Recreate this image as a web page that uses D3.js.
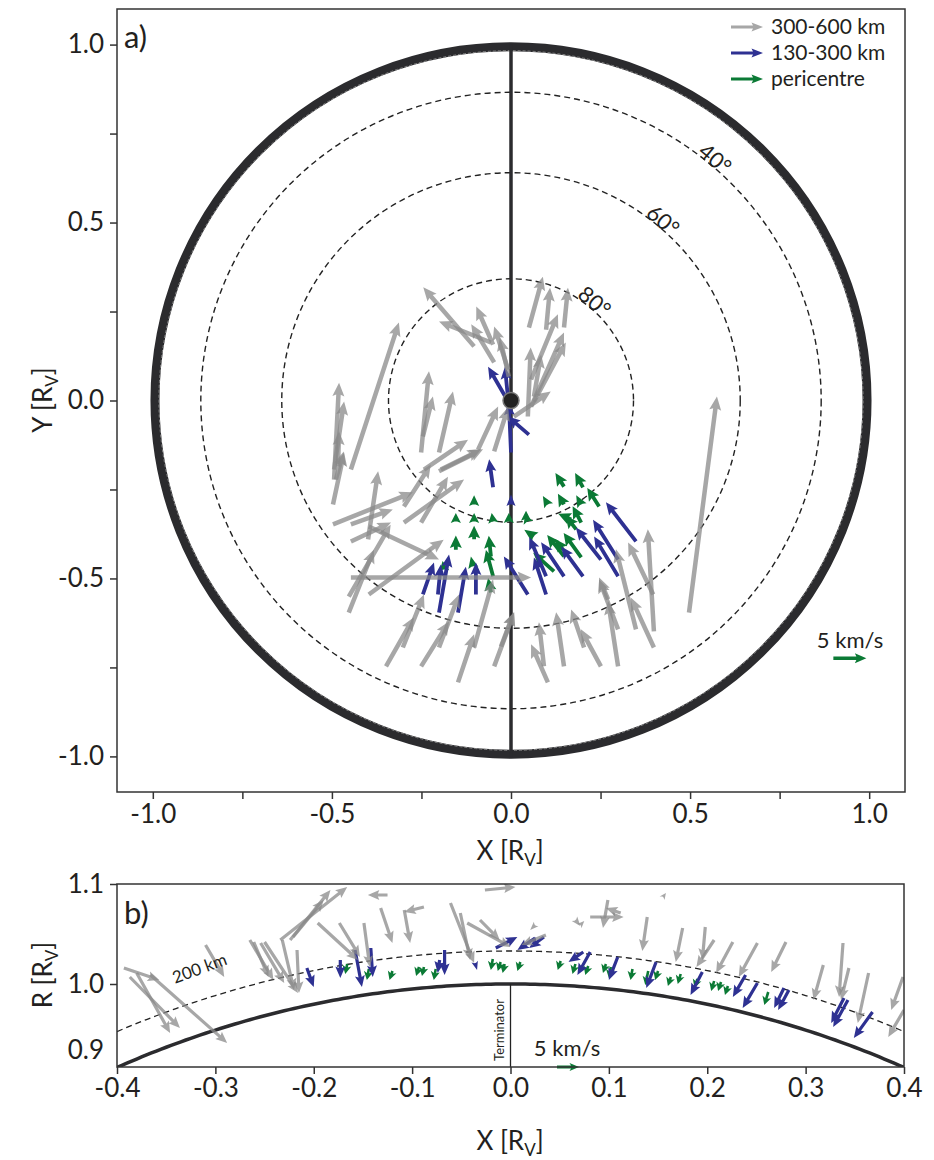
<!DOCTYPE html>
<html><head><meta charset="utf-8">
<script src="https://cdn.jsdelivr.net/npm/d3@7"></script>
<style>
body{margin:0;background:#fff}
text{font-family:Lato,'Open Sans',sans-serif;fill:#231f20}
</style>
</head><body>
<svg id="c" width="934" height="1160"></svg>
<script>
// ---------- DATA (panel a: [x, y, dx, dy] in R_V) ----------
const greyA = [
[-0.103,0.152,-0.142,0.166],[-0.056,0.163,-0.145,0.059],[-0.050,0.157,-0.047,0.107],
[-0.047,0.107,-0.064,0.107],[-0.008,0.087,-0.039,0.121],[-0.006,0.067,-0.025,0.110],
[0.050,0.205,0.039,0.143],[0.098,0.199,0.011,0.118],[0.148,0.205,0.011,0.112],
[0.056,0.059,0.075,0.183],[0.047,-0.045,0.008,0.194],[0.064,0.011,0.020,0.118],
[0.056,-0.017,0.092,0.208],[0.064,-0.003,0.089,0.166],[0.008,-0.045,0.103,0.070],
[-0.047,-0.143,0.039,0.124],[-0.092,-0.138,0.056,0.121],[-0.447,-0.194,0.134,0.413],
[-0.251,-0.146,0.022,0.228],[-0.246,-0.101,0.028,0.112],[-0.201,-0.146,0.039,0.171],
[-0.494,-0.222,0.014,0.272],[-0.494,-0.194,0.028,0.191],[-0.483,-0.185,0.003,0.098],
[-0.489,-0.222,0.022,0.079],[-0.243,-0.194,0.123,0.084],[-0.196,-0.194,0.112,0.056],
[-0.497,-0.292,0.031,0.146],[-0.399,-0.390,0.028,0.191],[-0.497,-0.348,0.223,0.090],
[-0.447,-0.348,0.117,0.042],[-0.299,-0.298,0.075,0.118],[-0.201,-0.199,0.123,0.062],
[-0.251,-0.343,0.075,0.129],[-0.299,-0.343,0.168,0.121],[-0.447,-0.396,0.112,0.053],
[-0.397,-0.354,0.196,-0.093],[-0.453,-0.551,0.117,0.202],[-0.453,-0.596,0.070,0.177],
[-0.397,-0.545,0.209,0.154],[-0.447,-0.497,0.503,0.000],[-0.349,-0.747,0.078,0.138],
[-0.302,-0.694,0.059,0.149],[-0.251,-0.747,0.078,0.126],[-0.201,-0.694,0.056,0.149],
[-0.148,-0.792,0.045,0.135],[-0.103,-0.694,0.053,0.191],[-0.047,-0.747,0.056,0.152],
[0.103,-0.792,-0.047,0.107],[0.092,-0.747,-0.014,0.124],[0.148,-0.747,-0.022,0.152],
[0.204,-0.694,-0.036,0.107],[0.251,-0.747,-0.056,0.104],[0.299,-0.747,-0.028,0.183],
[0.299,-0.643,-0.053,0.140],[0.349,-0.643,-0.056,0.225],[0.399,-0.694,-0.064,0.140],
[0.397,-0.545,-0.070,0.146],[0.399,-0.649,-0.017,0.287],[0.497,-0.596,0.078,0.607],
[-0.028,-0.691,0.036,0.096],[0.271,-0.559,-0.025,0.062]
];
const blueA = [
[-0.008,-0.003,-0.056,0.098],[-0.006,-0.017,-0.011,0.112],[0.000,-0.146,-0.006,0.140],
[0.050,-0.096,-0.059,0.051],[-0.050,-0.244,-0.011,0.079],[0.000,-0.292,0.000,0.028],
[-0.246,-0.545,0.031,0.090],[-0.201,-0.596,0.028,0.163],[-0.204,-0.545,0.008,0.084],
[-0.148,-0.596,0.022,0.129],[-0.098,-0.545,0.000,0.090],[0.047,-0.545,-0.067,0.107],
[0.098,-0.545,-0.034,0.104],[0.098,-0.494,-0.047,0.110],[0.148,-0.494,-0.064,0.096],
[0.201,-0.494,-0.061,0.084],[0.251,-0.447,-0.070,0.090],[0.299,-0.494,-0.067,0.112],
[0.299,-0.447,-0.070,0.112],[0.349,-0.396,-0.084,0.110]
];
const greenA = [
[-0.103,-0.292,0.000,0.026],[-0.154,-0.340,0.000,0.024],[-0.103,-0.340,0.000,0.024],
[-0.050,-0.340,-0.004,0.024],[-0.006,-0.340,0.000,0.024],[0.042,-0.334,0.000,0.024],
[-0.103,-0.390,0.000,0.038],[-0.154,-0.419,0.000,0.040],[-0.056,-0.438,-0.006,0.058],
[-0.050,-0.494,-0.020,0.074],[-0.106,-0.466,-0.006,0.028],[-0.056,-0.539,-0.008,0.040],
[-0.187,-0.475,-0.004,0.024],[0.148,-0.242,-0.024,0.038],[0.201,-0.244,-0.022,0.040],
[0.103,-0.292,-0.014,0.024],[0.148,-0.292,-0.017,0.030],[0.196,-0.292,-0.014,0.026],
[0.246,-0.298,-0.033,0.052],[0.047,-0.340,-0.008,0.020],[0.196,-0.343,-0.024,0.046],
[0.168,-0.334,-0.036,0.016],[0.182,-0.362,-0.030,0.038],[0.064,-0.382,-0.027,0.019],
[0.148,-0.438,-0.047,0.060],[0.196,-0.441,-0.049,0.069],[0.120,-0.480,-0.058,0.052],
[0.145,-0.419,-0.022,0.030]
];
// ---------- DATA (panel b: [x, R, dx, dR]) ----------
const greyB = [
[-0.393,1.016,0.036,-0.012],[-0.387,1.007,0.051,-0.051],[-0.380,1.011,0.034,-0.060],
[-0.366,1.009,0.078,-0.068],[-0.310,1.039,0.019,-0.032],[-0.265,1.044,0.024,-0.040],
[-0.261,1.042,0.015,-0.035],[-0.254,1.041,0.024,-0.040],[-0.250,1.042,0.034,-0.051],
[-0.232,1.044,0.012,-0.050],[-0.217,1.034,0.002,-0.043],[-0.234,1.044,0.068,0.053],
[-0.224,1.044,0.041,0.050],[-0.221,1.047,0.031,0.037],[-0.196,1.061,0.041,-0.037],
[-0.174,1.061,0.021,-0.034],[-0.149,1.061,0.006,-0.044],[-0.132,1.076,0.012,-0.035],
[-0.125,1.089,-0.020,0.000],[-0.108,1.074,0.006,-0.033],[-0.088,1.077,-0.020,-0.005],
[-0.061,1.081,0.024,-0.060],[-0.051,1.071,0.010,-0.047],[-0.044,1.061,0.044,-0.024],
[-0.026,1.094,0.031,0.003],[-0.031,1.064,0.020,-0.020],
[0.099,1.084,-0.005,-0.028],[0.081,1.067,0.034,0.000],[0.112,1.071,-0.015,0.005],
[0.139,1.067,-0.005,-0.034],[0.175,1.056,-0.007,-0.034],[0.198,1.057,-0.003,-0.033],
[0.207,1.044,-0.018,-0.027],[0.226,1.042,-0.017,-0.031],[0.251,1.041,-0.019,-0.034],
[0.280,1.042,-0.015,-0.030],[0.338,1.041,-0.004,-0.054],[0.318,1.019,-0.010,-0.035],
[0.344,1.016,-0.008,-0.032],[0.364,1.011,-0.011,-0.050],[0.399,1.007,-0.012,-0.033],
[0.400,0.974,-0.016,-0.027],[0.066,1.064,0.005,-0.006],[0.071,1.059,0.004,0.004],
[0.025,1.059,-0.005,-0.005],[0.036,1.049,-0.025,-0.010],[0.155,1.087,0.003,0.004]
];
const blueB = [
[-0.207,1.016,0.007,-0.019],[-0.173,1.024,0.000,-0.018],[-0.158,1.034,0.007,-0.037],
[-0.142,1.036,0.002,-0.029],[-0.067,1.034,0.000,-0.025],[-0.072,1.024,-0.002,-0.013],
[-0.036,1.021,0.002,-0.007],[-0.015,1.036,0.022,0.011],[0.025,1.046,-0.018,-0.012],
[0.034,1.047,-0.015,-0.011],[0.081,1.032,-0.013,-0.023],[0.074,1.032,-0.015,-0.010],
[0.109,1.027,-0.009,-0.023],[0.148,1.022,-0.010,-0.026],[0.195,1.012,-0.012,-0.023],
[0.239,1.009,-0.013,-0.022],[0.251,1.001,-0.015,-0.025],[0.283,0.994,-0.011,-0.020],
[0.278,0.996,-0.010,-0.020],[0.343,0.984,-0.015,-0.027],[0.339,0.986,-0.013,-0.025],
[0.368,0.972,-0.019,-0.026]
];
const greenB = [
[-0.166,1.020,-0.002,-0.010],[-0.144,1.015,-0.002,-0.011],[-0.120,1.013,-0.003,-0.009],
[-0.093,1.017,-0.003,-0.009],[-0.088,1.017,-0.002,-0.009],[-0.076,1.015,-0.002,-0.011],
[-0.018,1.025,-0.002,-0.011],[-0.010,1.022,-0.003,-0.009],[-0.006,1.020,-0.002,-0.009],
[0.010,1.022,-0.003,-0.009],[0.051,1.023,-0.003,-0.009],[0.066,1.020,-0.003,-0.010],
[0.079,1.018,-0.003,-0.009],[0.097,1.020,-0.003,-0.009],[0.102,1.017,-0.002,-0.011],
[0.124,1.015,-0.002,-0.011],[0.140,1.013,-0.003,-0.014],[0.150,1.013,-0.003,-0.009],
[0.163,1.007,-0.003,-0.009],[0.173,1.010,-0.003,-0.010],[0.190,1.005,-0.003,-0.009],
[0.207,1.003,-0.003,-0.010],[0.214,1.002,-0.003,-0.009],[0.221,0.998,-0.003,-0.009],
[0.262,0.992,-0.004,-0.013]
];
const latCircles = [{lat:"40°", r:0.866},{lat:"60°", r:0.64},{lat:"80°", r:0.342}];
const ticksA = [-1.0,-0.5,0.0,0.5,1.0];
const minorA = [-0.75,-0.25,0.25,0.75];
const ticksBx = [-0.4,-0.3,-0.2,-0.1,0.0,0.1,0.2,0.3,0.4];
const ticksBy = [1.0,1.1];
const legendItems = [{label:"300-600 km",c:"grey"},{label:"130-300 km",c:"blue"},{label:"pericentre",c:"green"}];

// ---------- STYLE ----------
const COL = {grey:"#8a8a8a", blue:"#2e3192", green:"#0b7a35"};
const OP = {grey:0.75, blue:1, green:1};
const dark = "#2b2b2e";

const svg = d3.select("#c");
function arrowPath(x0,y0,x1,y1,sw,hw,hl,minK){
  const dx=x1-x0, dy=y1-y0, L=Math.hypot(dx,dy);
  if(L<0.5) return "";
  const ux=dx/L, uy=dy/L, nx=-uy, ny=ux;
  let h=hl,w=hw,s=sw;
  if(L<hl*1.1){const k=L/(hl*1.1); h=L; w=hw*Math.max(k,minK||0.6); s=sw*k;}
  const bx=x1-ux*h, by=y1-uy*h;
  const p=[[x0+nx*s/2,y0+ny*s/2],[bx+nx*s/2,by+ny*s/2],[bx+nx*w/2-ux*1.5,by+ny*w/2-uy*1.5],[x1,y1],
           [bx-nx*w/2-ux*1.5,by-ny*w/2-uy*1.5],[bx-nx*s/2,by-ny*s/2],[x0-nx*s/2,y0-ny*s/2]];
  return "M"+p.map(q=>q[0].toFixed(2)+","+q[1].toFixed(2)).join("L")+"Z";
}
function quiver(g, data, xs, ys, key, sw, hw, hl, minK){
  g.append("g").selectAll("path").data(data).join("path")
   .attr("d",d=>arrowPath(xs(d[0]),ys(d[1]),xs(d[0]+d[2]),ys(d[1]+d[3]),sw,hw,hl,minK))
   .attr("fill",COL[key]).attr("fill-opacity",OP[key]);
}
function axisLabel(g, x, y, main, rot){
  const t=g.append("text").attr("transform",`translate(${x},${y})`+(rot?" rotate(-90)":""))
    .attr("text-anchor","middle").attr("font-size",26);
  t.append("tspan").text(main+" [R");
  t.append("tspan").attr("font-size",17).attr("dy",6).text("V");
  t.append("tspan").attr("dy",-6).text("]");
}

// ---------- PANEL A ----------
const xA = d3.scaleLinear([-1.1,1.1],[117,905]);
const yA = d3.scaleLinear([-1.1,1.1],[792,9]);
const gA = svg.append("g");
svg.append("defs").append("clipPath").attr("id","clipA").append("rect")
  .attr("x",117).attr("y",9).attr("width",788).attr("height",783);
const pa = gA.append("g").attr("clip-path","url(#clipA)");
const cx=xA(0), cy=yA(0), kx=xA(1)-xA(0), ky=yA(0)-yA(1);
latCircles.forEach(c=>{
  pa.append("ellipse").attr("cx",cx).attr("cy",cy).attr("rx",c.r*kx).attr("ry",c.r*ky)
    .attr("fill","none").attr("stroke","#222").attr("stroke-width",1.4).attr("stroke-dasharray","6,4");
});
pa.append("ellipse").attr("cx",cx).attr("cy",cy).attr("rx",kx*0.994).attr("ry",ky*0.994)
  .attr("fill","none").attr("stroke",dark).attr("stroke-width",9);
pa.append("ellipse").attr("cx",cx).attr("cy",cy).attr("rx",kx*0.983).attr("ry",ky*0.983)
  .attr("fill","none").attr("stroke","#9a9a9a").attr("stroke-width",0.8).attr("stroke-dasharray","3,2");
pa.append("line").attr("x1",xA(0)).attr("x2",xA(0)).attr("y1",yA(1)).attr("y2",yA(-1))
  .attr("stroke",dark).attr("stroke-width",3.5);
quiver(pa, greenA, xA, yA, "green", 3.8, 12, 11, 0.85);
quiver(pa, blueA, xA, yA, "blue", 3.8, 11, 11);
pa.append("circle").attr("cx",cx).attr("cy",cy).attr("r",8).attr("fill","#222").attr("stroke","#777").attr("stroke-width",1.5);
quiver(pa, greyA, xA, yA, "grey", 4.5, 12, 12);
latCircles.forEach(c=>{
  const a = 50*Math.PI/180;
  const px = cx + (c.r+0.02)*kx*Math.cos(a), py = cy - (c.r+0.02)*ky*Math.sin(a);
  pa.append("text").attr("transform",`translate(${px},${py}) rotate(40)`)
    .attr("text-anchor","middle").attr("dy","0.35em").attr("font-size",22).text(c.lat);
});
gA.append("rect").attr("x",117).attr("y",9).attr("width",788).attr("height",783)
  .attr("fill","none").attr("stroke","#333").attr("stroke-width",1.5);
function styleAxis(sel){sel.select(".domain").remove();sel.selectAll("line").attr("stroke","#333").attr("stroke-width",1.5);
  sel.selectAll("text").attr("font-size",26).attr("fill","#231f20").style("font-family","Lato,'Open Sans',sans-serif");}
gA.append("g").attr("transform","translate(0,792)")
  .call(d3.axisBottom(xA).tickValues(ticksA).tickSize(7).tickPadding(6).tickFormat(d=>d.toFixed(1))).call(styleAxis);
gA.append("g").attr("transform","translate(0,792)")
  .call(d3.axisBottom(xA).tickValues(minorA).tickSize(7).tickFormat("")).call(styleAxis);
gA.append("g").attr("transform","translate(117,0)")
  .call(d3.axisLeft(yA).tickValues(ticksA).tickSize(7).tickPadding(6).tickFormat(d=>d.toFixed(1))).call(styleAxis);
gA.append("g").attr("transform","translate(117,0)")
  .call(d3.axisLeft(yA).tickValues(minorA).tickSize(7).tickFormat("")).call(styleAxis);
axisLabel(gA, 510, 860, "X", false);
axisLabel(gA, 52, 400, "Y", true);
gA.append("text").attr("x",124).attr("y",48).attr("font-size",31).text("a)");
legendItems.forEach((d,i)=>{
  const y=[27,53,79][i];
  gA.append("path").attr("d",arrowPath(731,y,763,y,3,9,10)).attr("fill",COL[d.c]).attr("fill-opacity",OP[d.c]);
  gA.append("text").attr("x",771).attr("y",y).attr("dy","0.33em").attr("font-size",21).text(d.label);
});
gA.append("text").attr("x",850).attr("y",648).attr("text-anchor","middle").attr("font-size",22).text("5 km/s");
gA.append("path").attr("d",arrowPath(xA(0.9),yA(-0.724),xA(0.9)+33,yA(-0.724),3.5,10,10)).attr("fill",COL.green);

// ---------- PANEL B ----------
const xB = d3.scaleLinear([-0.4,0.4],[117,904]);
const yB = d3.scaleLinear([0.9,1.1],[1084,884]);
const gB = svg.append("g");
svg.select("defs").append("clipPath").attr("id","clipB").append("rect")
  .attr("x",117).attr("y",884).attr("width",787).attr("height",183);
const pb = gB.append("g").attr("clip-path","url(#clipB)");
const xs = d3.range(-0.4,0.4001,0.005);
const surf = d3.line().x(d=>xB(d)).y(d=>yB(Math.sqrt(1-d*d)));
const alt200 = d3.line().x(d=>xB(d)).y(d=>yB(Math.sqrt(1.033*1.033-d*d)));
pb.append("path").attr("d",surf(xs)).attr("fill","none").attr("stroke",dark).attr("stroke-width",3.5);
pb.append("path").attr("d",alt200(xs)).attr("fill","none").attr("stroke","#222").attr("stroke-width",1.3).attr("stroke-dasharray","6,4");
pb.append("line").attr("x1",xB(0)).attr("x2",xB(0)).attr("y1",yB(1)).attr("y2",1067).attr("stroke","#222").attr("stroke-width",1.3);
quiver(pb, greenB, xB, yB, "green", 2.6, 9, 7, 0.85);
quiver(pb, blueB, xB, yB, "blue", 3.2, 10, 10);
quiver(pb, greyB, xB, yB, "grey", 3.2, 10, 10);
gB.append("text").attr("transform",`translate(${xB(-0.003)-4},1030) rotate(-90)`).attr("text-anchor","middle")
  .attr("font-size",13).text("Terminator");
gB.append("text").attr("transform",`translate(${xB(-0.314)},${yB(1.01)}) rotate(-20)`).attr("text-anchor","middle")
  .attr("font-size",17).text("200 km");
gB.append("text").attr("x",567).attr("y",1056).attr("text-anchor","middle").attr("font-size",22).text("5 km/s");
gB.append("path").attr("d",arrowPath(557,1067,579,1067,3,8,8)).attr("fill",COL.green);
gB.append("rect").attr("x",117).attr("y",884).attr("width",787).attr("height",183)
  .attr("fill","none").attr("stroke","#333").attr("stroke-width",1.5);
gB.append("g").attr("transform","translate(0,1067)")
  .call(d3.axisBottom(xB).tickValues(ticksBx).tickSize(7).tickPadding(5).tickFormat(d=>d.toFixed(1))).call(styleAxis);
gB.append("g").attr("transform","translate(117,0)")
  .call(d3.axisLeft(yB).tickValues(ticksBy).tickSize(7).tickPadding(6).tickFormat(d=>d.toFixed(1))).call(styleAxis);
gB.append("text").attr("x",104).attr("y",1050).attr("dy","0.35em").attr("text-anchor","end").attr("font-size",26).text("0.9");
axisLabel(gB, 510, 1150, "X", false);
axisLabel(gB, 52, 975, "R", true);
gB.append("text").attr("x",124).attr("y",924).attr("font-size",31).text("b)");
</script>
</body></html>
